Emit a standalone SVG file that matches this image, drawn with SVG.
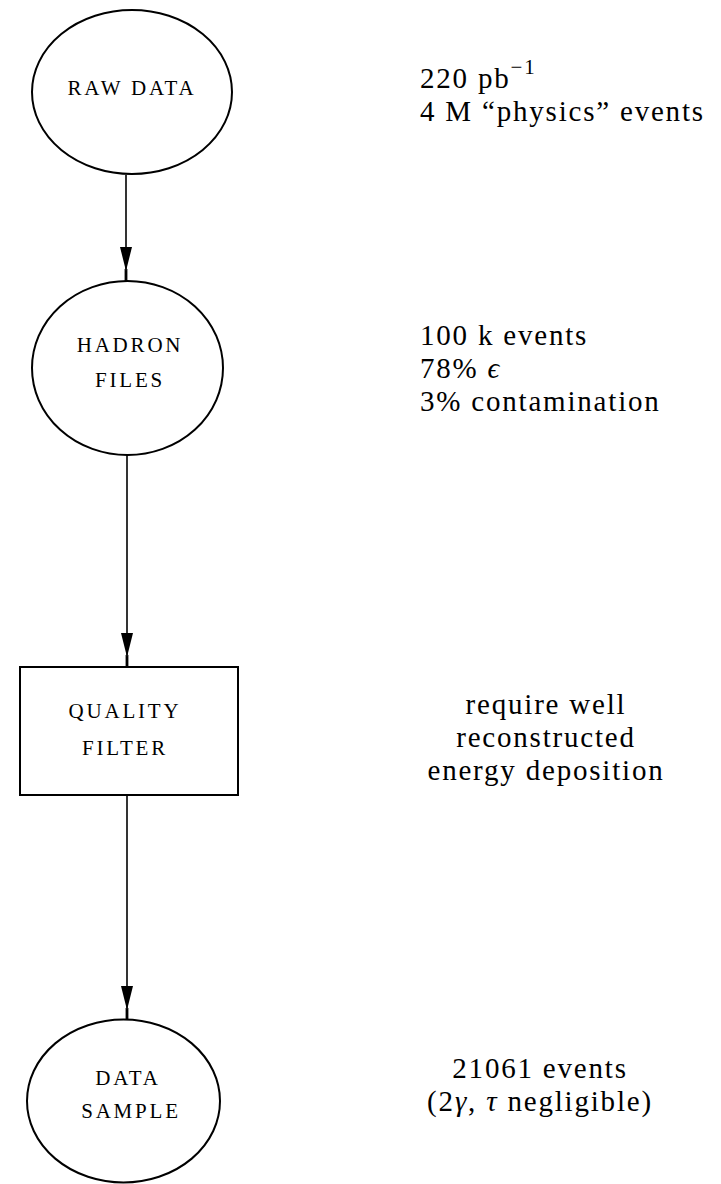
<svg xmlns="http://www.w3.org/2000/svg" width="721" height="1184" viewBox="0 0 721 1184">
<style>
.shape{fill:none;stroke:#000;stroke-width:2}
.conn{fill:none;stroke:#000;stroke-width:1.6}
.lbl{font-family:"Liberation Serif","Times New Roman",serif;font-size:21px;letter-spacing:2.8px;fill:#000;text-anchor:middle}
.note{font-family:"Liberation Serif","Times New Roman",serif;font-size:29px;letter-spacing:1.8px;fill:#000}
.mid{text-anchor:middle}
.it{font-style:italic}
</style>
<defs>
<marker id="ah" viewBox="0 0 34 12" refX="34" refY="6" markerWidth="34" markerHeight="12" markerUnits="userSpaceOnUse" orient="auto">
<path d="M0,0 L0,12 L24,6 Z M22,4.6 L34,4.6 L34,7.4 L22,7.4 Z" fill="#000"/>
</marker>
</defs>
<rect width="721" height="1184" fill="#fff"/>
<g id="connectors">
<line class="conn" x1="126" y1="175" x2="126" y2="281" marker-end="url(#ah)"/>
<line class="conn" x1="127" y1="455" x2="127" y2="667" marker-end="url(#ah)"/>
<line class="conn" x1="127" y1="795" x2="127" y2="1020" marker-end="url(#ah)"/>
</g>
<g id="raw-data">
<ellipse class="shape" cx="132" cy="92" rx="100" ry="82"/>
<text class="lbl" x="132" y="95">RAW DATA</text>
</g>
<g id="hadron-files">
<ellipse class="shape" cx="127.5" cy="368" rx="95.5" ry="87"/>
<text class="lbl" x="130" y="352">HADRON</text>
<text class="lbl" x="130" y="387">FILES</text>
</g>
<g id="quality-filter">
<rect class="shape" x="20" y="667" width="218" height="128"/>
<text class="lbl" x="125" y="718">QUALITY</text>
<text class="lbl" x="125" y="755">FILTER</text>
</g>
<g id="data-sample">
<ellipse class="shape" cx="123.5" cy="1101" rx="96.5" ry="81.5"/>
<text class="lbl" x="128" y="1085">DATA</text>
<text class="lbl" x="131" y="1118">SAMPLE</text>
</g>
<g id="notes">
<text class="note" x="420" y="88">220 pb<tspan font-size="21" dy="-14">−1</tspan></text>
<text class="note" x="420" y="121">4 M “physics” events</text>
<text class="note" x="420" y="345">100 k events</text>
<text class="note" x="420" y="378">78% <tspan class="it">ϵ</tspan></text>
<text class="note" x="420" y="411">3% contamination</text>
<text class="note mid" x="546" y="714">require well</text>
<text class="note mid" x="546" y="747">reconstructed</text>
<text class="note mid" x="546" y="780">energy deposition</text>
<text class="note mid" x="540" y="1078">21061 events</text>
<text class="note mid" x="540" y="1111">(2<tspan class="it">γ</tspan>, <tspan class="it">τ</tspan> negligible)</text>
</g>
</svg>
